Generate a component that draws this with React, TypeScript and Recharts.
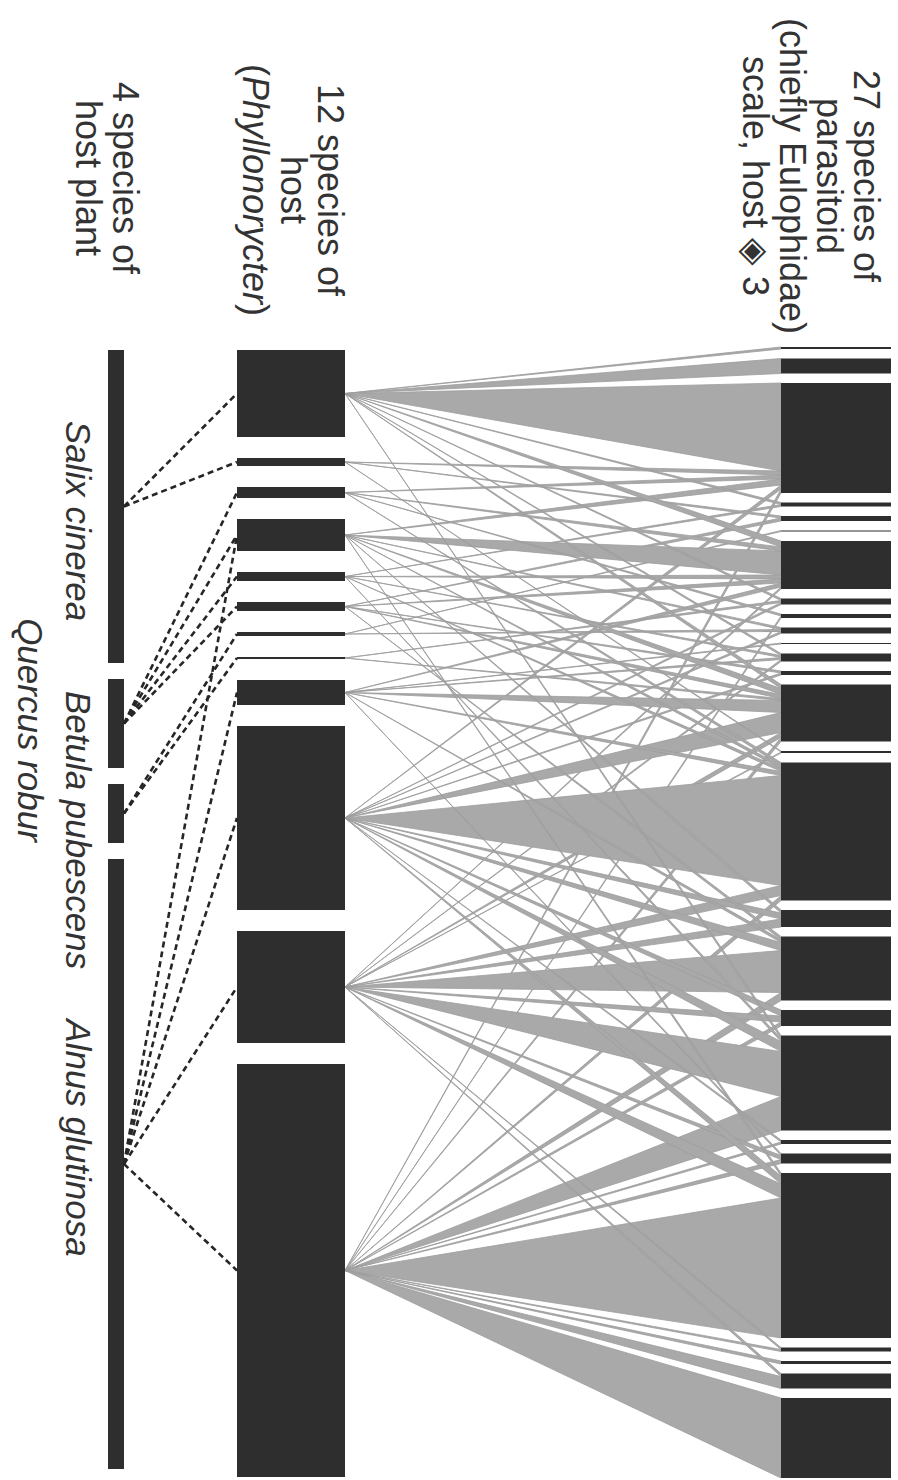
import React from "react";
import { ComposedChart, XAxis, YAxis, Area, Line, ReferenceArea, ReferenceDot } from "recharts";

const W = 898;
const H = 1480;

// sizes, top to bottom in each column
const plantNames = ["Salix cinerea", "Betula pubescens", "Quercus robur", "Alnus glutinosa"];
const plantSize = [313, 89, 59, 610];
const hostSize = [87, 8, 11, 32, 9, 9, 4, 2, 25, 184, 112, 413];
const paraSize = [2, 15, 110, 4, 5, 1, 48, 6, 4, 6, 1, 8, 4, 57, 2, 138, 17, 64, 16, 95, 4, 10, 165, 4, 3, 15, 80];

// plant index -> host index (dashed links)
const plantHost = [
  [0, 0], [0, 1], [1, 2], [1, 3], [1, 4], [1, 5], [2, 6], [2, 7],
  [3, 3], [3, 8], [3, 9], [3, 10], [3, 11],
];

// parasitoid index, host index, share of the parasitoid bar
const paraHost = [
  [0, 0, 2],
  [1, 0, 15],
  [2, 0, 88], [2, 1, 4], [2, 2, 4], [2, 3, 6], [2, 9, 4], [2, 11, 4],
  [3, 0, 2], [3, 4, 2],
  [4, 1, 2], [4, 5, 3],
  [5, 6, 1],
  [6, 0, 6], [6, 2, 4], [6, 3, 24], [6, 4, 4], [6, 5, 4], [6, 8, 4], [6, 10, 2],
  [7, 0, 2], [7, 7, 2], [7, 9, 2],
  [8, 2, 2], [8, 11, 2],
  [9, 3, 2], [9, 6, 2], [9, 9, 2],
  [10, 8, 1],
  [11, 0, 2], [11, 4, 2], [11, 8, 2], [11, 10, 2],
  [12, 5, 2], [12, 9, 2],
  [13, 0, 4], [13, 3, 6], [13, 5, 4], [13, 7, 2], [13, 8, 12], [13, 9, 20], [13, 10, 5], [13, 11, 4],
  [14, 1, 1], [14, 10, 1],
  [15, 2, 3], [15, 3, 3], [15, 4, 3], [15, 8, 4], [15, 9, 110], [15, 10, 10], [15, 11, 5],
  [16, 3, 3], [16, 9, 6], [16, 10, 8],
  [17, 5, 3], [17, 8, 3], [17, 9, 8], [17, 10, 42], [17, 11, 8],
  [18, 9, 6], [18, 10, 6], [18, 11, 4],
  [19, 0, 3], [19, 4, 3], [19, 9, 10], [19, 10, 45], [19, 11, 34],
  [20, 9, 2], [20, 11, 2],
  [21, 8, 2], [21, 10, 4], [21, 11, 4],
  [22, 3, 3], [22, 9, 8], [22, 10, 14], [22, 11, 140],
  [23, 10, 2], [23, 11, 2],
  [24, 11, 3],
  [25, 10, 3], [25, 11, 12],
  [26, 11, 80],
];

const paraTitle = ["27 species of", "parasitoid", "(chiefly Eulophidae)", "scale, host \u25C8 3"];
const hostTitle = ["12 species of", "host", "(Phyllonorycter)"];
const plantTitle = ["4 species of", "host plant"];

// layout
const PLANT_X = [108, 124];
const HOST_X = [237, 345];
const PARA_X = [781, 891];
const TOP = 350;
const LINE_STEP = 37;
const BAR = "#2e2e2e";
const GREY = "#a9a9a9";
const FONT = "'Liberation Sans', Arial, Helvetica, sans-serif";

function stack(sizes: number[], gap: number, top: number) {
  let y = top;
  return sizes.map((s) => {
    const r = { y0: y, y1: y + s, mid: y + s / 2 };
    y += s + gap;
    return r;
  });
}

const plants = stack(plantSize, 16, TOP);
const hosts = stack(hostSize, 21, TOP);
const paras = stack(paraSize, 9.5, TOP - 3);

// split every parasitoid bar among its hosts, in host order
const wedges: { x: number; r: number[] }[][] = [];
paraSize.forEach((size, p) => {
  const rows = paraHost.filter((l) => l[0] === p).sort((a, b) => a[1] - b[1]);
  const sum = rows.reduce((s, l) => s + l[2], 0);
  let y = paras[p].y0;
  rows.forEach((l) => {
    const h = (l[2] / sum) * size;
    const hc = hosts[l[1]].mid;
    wedges.push([
      { x: HOST_X[1], r: [hc, hc] },
      { x: PARA_X[0], r: [y, y + h] },
    ]);
    y += h;
  });
});

function RotLabel({ cx, cy, text, italic, size }: any) {
  let content: any = text;
  if (text === "(Phyllonorycter)") {
    content = [
      <tspan key="a">(</tspan>,
      <tspan key="b" fontStyle="italic">Phyllonorycter</tspan>,
      <tspan key="c">)</tspan>,
    ];
  }
  return (
    <text
      x={cx}
      y={cy}
      transform={`rotate(90 ${cx} ${cy})`}
      textAnchor="middle"
      dominantBaseline="central"
      fontFamily={FONT}
      fontSize={size}
      fontStyle={italic ? "italic" : "normal"}
      fill="#333"
    >
      {content}
    </text>
  );
}

function label(x: number, y: number, text: string, italic = false, size = 35) {
  return (
    <ReferenceDot
      key={text}
      x={x}
      y={y}
      r={1}
      fill="none"
      stroke="none"
      shape={(p: any) => <RotLabel cx={p.cx} cy={p.cy} text={text} italic={italic} size={size} />}
    />
  );
}

const plantLabelPos = [
  [78, 521],
  [78, 830],
  [30, 730],
  [78, 1138],
];

export default function App() {
  return (
    <div style={{ position: "absolute", left: 0, top: 0, background: "#fff" }}>
      <ComposedChart width={W} height={H} margin={{ top: 0, right: 0, bottom: 0, left: 0 }}>
        <XAxis type="number" dataKey="x" domain={[0, W]} allowDataOverflow hide />
        <YAxis type="number" domain={[0, H]} reversed allowDataOverflow hide />

        {wedges.map((d, i) => (
          <Area
            key={"w" + i}
            data={d}
            dataKey="r"
            type="linear"
            fill={GREY}
            fillOpacity={1}
            stroke="#9d9d9d"
            strokeWidth={0.8}
            dot={false}
            activeDot={false}
            isAnimationActive={false}
          />
        ))}

        {plantHost.map(([p, h], i) => (
          <Line
            key={"d" + i}
            data={[
              { x: PLANT_X[1], y: plants[p].mid },
              { x: HOST_X[0], y: hosts[h].mid },
            ]}
            dataKey="y"
            type="linear"
            stroke="#262626"
            strokeWidth={2.6}
            strokeDasharray="6 4"
            dot={false}
            activeDot={false}
            isAnimationActive={false}
          />
        ))}

        {plants.map((b, i) => (
          <ReferenceArea key={"p" + i} x1={PLANT_X[0]} x2={PLANT_X[1]} y1={b.y0} y2={b.y1} fill={BAR} fillOpacity={1} stroke="none" />
        ))}
        {hosts.map((b, i) => (
          <ReferenceArea key={"h" + i} x1={HOST_X[0]} x2={HOST_X[1]} y1={b.y0} y2={b.y1} fill={BAR} fillOpacity={1} stroke="none" />
        ))}
        {paras.map((b, i) => (
          <ReferenceArea key={"q" + i} x1={PARA_X[0]} x2={PARA_X[1]} y1={b.y0} y2={b.y1} fill={BAR} fillOpacity={1} stroke="none" />
        ))}

        {paraTitle.map((t, i) => label(866 - i * LINE_STEP, 176, t, false, 36))}
        {hostTitle.map((t, i) => label(330 - i * LINE_STEP, 190, t, false, 36))}
        {plantTitle.map((t, i) => label(125 - i * LINE_STEP, 178, t, false, 36))}
        {plantNames.map((t, i) => label(plantLabelPos[i][0], plantLabelPos[i][1], t, true, 35))}
      </ComposedChart>
    </div>
  );
}
